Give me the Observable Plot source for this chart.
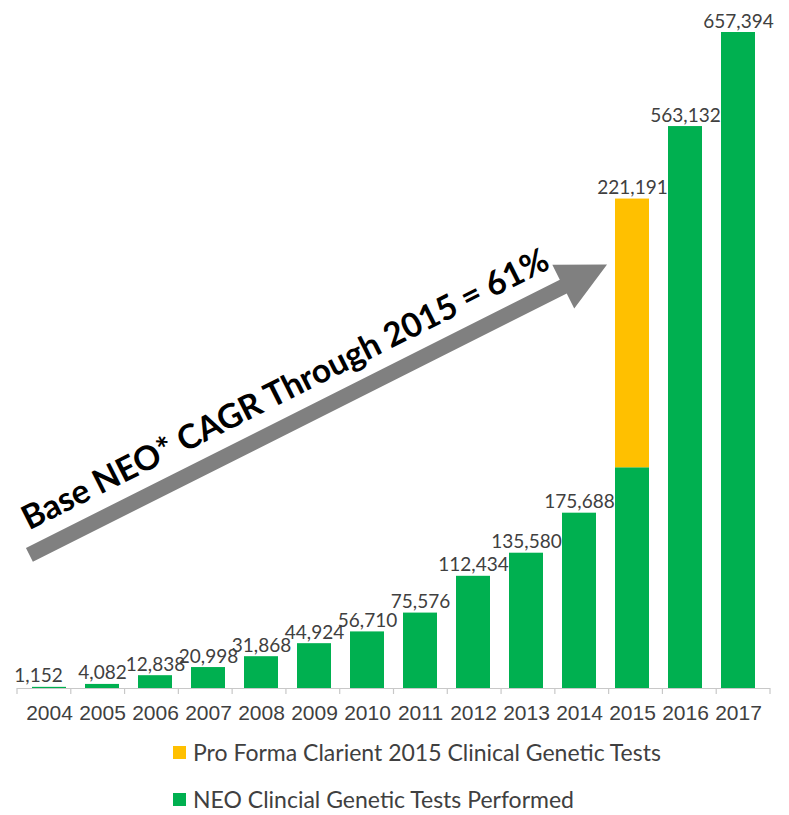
<!DOCTYPE html>
<html><head><meta charset="utf-8">
<script src="https://cdn.jsdelivr.net/npm/d3@7"></script>
<script src="https://cdn.jsdelivr.net/npm/@observablehq/plot@0.6"></script>
<style>
body{margin:0;background:#fff;}
#wrap{position:relative;width:789px;height:815px;background:#fff;}
.legend{position:absolute;left:173px;display:flex;align-items:center;font-family:Lato,sans-serif;font-size:23px;color:#404040;white-space:nowrap;}
.legend .sw{width:13px;height:13px;margin-right:7px;flex:none;}
</style></head><body>
<div id="wrap"></div>
<script>
// ---- data ----
const years = ["2004","2005","2006","2007","2008","2009","2010","2011","2012","2013","2014","2015","2016","2017"];
const neoTests = [1152,4082,12838,20998,31868,44924,56710,75576,112434,135580,175688,221191,563132,657394];
const proFormaYears = ["2015"];
const proFormaTests = [269300];
const seriesNames = ["NEO Clincial Genetic Tests Performed","Pro Forma Clarient 2015 Clinical Genetic Tests"];
const seriesColors = ["#00B050","#FFC000"];
const legendOrder = [1, 0];
const annotationText = "Base NEO* CAGR Through 2015 = 61%";
const arrowFrom = {year: "2004", value: 133400};
const arrowTo = {year: "2015", value: 424300};

// ---- build tables ----
const rows = years.map((y, i) => ({year: y, value: neoTests[i], series: seriesNames[0]}))
  .concat(proFormaYears.map((y, i) => ({year: y, value: proFormaTests[i], series: seriesNames[1]})));
const fmt = d3.format(",");
const labels = years.map((y, i) => {
  const j = proFormaYears.indexOf(y);
  return {year: y, top: neoTests[i] + (j >= 0 ? proFormaTests[j] : 0), label: fmt(neoTests[i])};
});

const plot = Plot.plot({
  width: 789, height: 730,
  marginLeft: 17, marginRight: 19, marginTop: 32, marginBottom: 42,
  style: {fontFamily: "'Liberation Sans', Arial, sans-serif", fontSize: "21px", color: "#404040", background: "white", overflow: "visible"},
  x: {domain: years, paddingInner: 0.35, paddingOuter: 0.175, tickSize: 0, tickPadding: 17, label: null},
  y: {domain: [0, d3.max(neoTests)], axis: null},
  color: {domain: seriesNames, range: seriesColors},
  marks: [
    Plot.barY(rows, {x: "year", y: "value", fill: "series"}),
    Plot.ruleY([0], {stroke: "#c8c8c8", strokeWidth: 1.2}),
    Plot.text(labels.slice(0, 1), {x: "year", y: "top", text: "label", lineAnchor: "bottom", dy: -5, dx: -11, fontFamily: "Lato", fontSize: 19, fill: "#404040"}),
    Plot.text(labels.slice(1), {x: "year", y: "top", text: "label", lineAnchor: "bottom", dy: -5, fontFamily: "Lato", fontSize: 19, fill: "#404040"})
  ]
});
const wrap = document.getElementById("wrap");
wrap.appendChild(plot);
const svg = d3.select(plot);

// year tick labels styling
svg.selectAll("text").filter(function () { return years.includes(this.textContent.trim()); })
  .style("font-size", "21px").style("font-family", "'Liberation Sans', Arial, sans-serif").style("fill", "#404040");

// ---- scales from the plot ----
const xd = plot.scale("x"), yd = plot.scale("y");
const xs = d3.scaleBand().domain(xd.domain).range(xd.range)
  .paddingInner(xd.paddingInner ?? 0.35).paddingOuter(xd.paddingOuter ?? 0.175).align(xd.align ?? 0.5);
const ys = d3.scaleLinear().domain(yd.domain).range(yd.range);
const step = xs.step(), pin = xs.paddingInner();

// boundary ticks (between categories)
const bounds = years.map(y => xs(y) - pin * step / 2).concat([xs(years[years.length - 1]) + xs.bandwidth() + pin * step / 2]);
svg.append("g").selectAll("line").data(bounds).join("line")
  .attr("x1", d => d).attr("x2", d => d)
  .attr("y1", ys(0)).attr("y2", ys(0) + 6)
  .attr("stroke", "#c8c8c8").attr("stroke-width", 1.2);

// ---- arrow annotation ----
const T0 = [xs(arrowFrom.year) + 3, ys(arrowFrom.value)];
const T1 = [xs(arrowTo.year) - 11, ys(arrowTo.value)];
const dxa = T1[0] - T0[0], dya = T1[1] - T0[1];
const len = Math.hypot(dxa, dya);
const u = [dxa / len, dya / len];
const n = [-u[1], u[0]];
const L = 49, W = 24.4, w = 7.7;
const B = [T1[0] - L * u[0], T1[1] - L * u[1]];
const P = (p, k) => [p[0] + k * n[0], p[1] + k * n[1]];
const pts = [P(T0, w), P(B, w), P(B, W), T1, P(B, -W), P(B, -w), P(T0, -w)];
const g = svg.append("g");
g.append("path").attr("d", "M" + pts.map(p => p.join(",")).join("L") + "Z").attr("fill", "#808080");
const ang = Math.atan2(dya, dxa) * 180 / Math.PI;
const along = 303, off = 22;
const mid = [T0[0] + along * u[0] - off * n[0], T0[1] + along * u[1] - off * n[1]];
const t = g.append("text").text(annotationText)
  .attr("font-family", "Lato, sans-serif").attr("font-weight", "bold").attr("font-size", 32)
  .attr("fill", "#000").attr("text-anchor", "middle")
  .attr("transform", `translate(${mid[0]},${mid[1]}) rotate(${ang})`);
const measured = t.node().getComputedTextLength();
if (measured > 0) t.attr("font-size", 32 * 585 / measured);

// ---- legend ----
legendOrder.forEach((k, i) => {
  const d = document.createElement("div");
  d.className = "legend";
  d.style.top = (738 + i * 47) + "px";
  d.innerHTML = `<span class="sw" style="background:${seriesColors[k]}"></span><span>${seriesNames[k]}</span>`;
  wrap.appendChild(d);
});
</script>
</body></html>
